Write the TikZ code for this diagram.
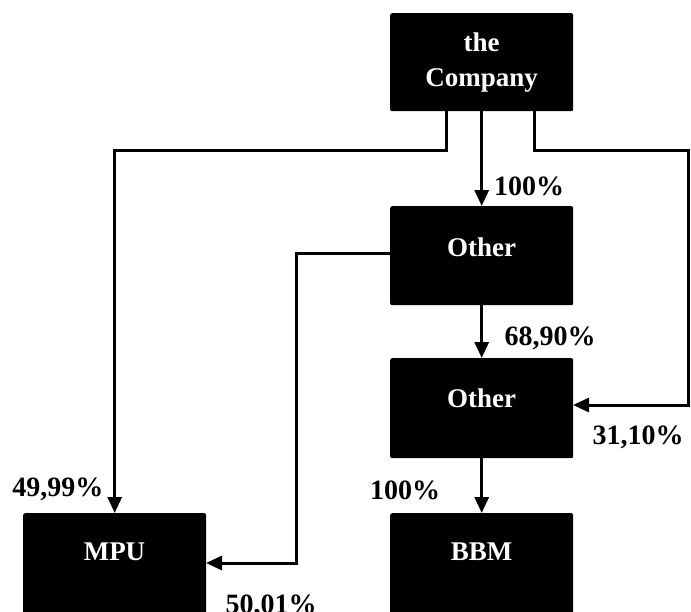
\documentclass[tikz,border=0pt]{standalone}
\usepackage{fontspec}
\setmainfont{Liberation Serif}
\usetikzlibrary{arrows.meta}
\begin{document}
\begin{tikzpicture}[x=1pt,y=-1pt,
  box/.style={draw=none,fill=black,rounded corners=2pt,inner sep=0pt,anchor=north west},
  btxt/.style={text=white,font=\fontsize{27}{35}\selectfont\bfseries,align=center,inner sep=0pt},
  lbl/.style={text=black,font=\fontsize{28}{32}\selectfont\bfseries,inner sep=0pt},
  conn/.style={line width=3pt},
  arr/.style={line width=3pt,-{Triangle[width=14pt,length=16pt]}}]
\useasboundingbox (0,0) rectangle (691,611);
% boxes
\node[box,minimum width=183pt,minimum height=98pt] (comp) at (390,13) {};
\node[box,minimum width=183pt,minimum height=99pt] (oth1) at (390,206) {};
\node[box,minimum width=183pt,minimum height=100pt] (oth2) at (390,358) {};
\node[box,minimum width=183pt,minimum height=102pt] (mpu) at (23,513) {};
\node[box,minimum width=183pt,minimum height=102pt] (bbm) at (390,513) {};
% box texts
\node[btxt] (tcomp) at (comp.center) {the\\Company};
\node[btxt] (toth1) at ([yshift=8pt]oth1.center) {Other};
\node[btxt] (toth2) at ([yshift=10pt]oth2.center) {Other};
\node[btxt] (tmpu) at (114.5,552) {MPU};
\node[btxt] (tbbm) at (481.5,552) {BBM};
% helper coordinates
\coordinate (cl) at (446,111);
\coordinate (cr) at (534,111);
\coordinate (o1l) at (390,253);
\coordinate (o2r) at (573,405);
\coordinate (mpr) at (206,563);
% connectors
\draw[arr] (comp.south) -- (oth1.north);
\draw[arr] (cl) -- (446,150) -- (mpu.north |- 0,150) -- (mpu.north);
\draw[arr] (cr) -- (534,150) -- (688,150) -- (688,405) -- (o2r);
\draw[arr] (o1l) -- (296,253) -- (296,563) -- (mpr);
\draw[arr] (oth1.south) -- (oth2.north);
\draw[arr] (oth2.south) -- (bbm.north);
% labels
\node[lbl] (l1) at (529,186) {100\%};
\node[lbl] (l2) at (550,338) {68,90\%};
\node[lbl] (l3) at (638,437) {31,10\%};
\node[lbl] (l4) at (58,489) {49,99\%};
\node[lbl] (l5) at (405,490) {100\%};
\node[lbl] (l6) at (271,606) {50,01\%};
\end{tikzpicture}
\end{document}
